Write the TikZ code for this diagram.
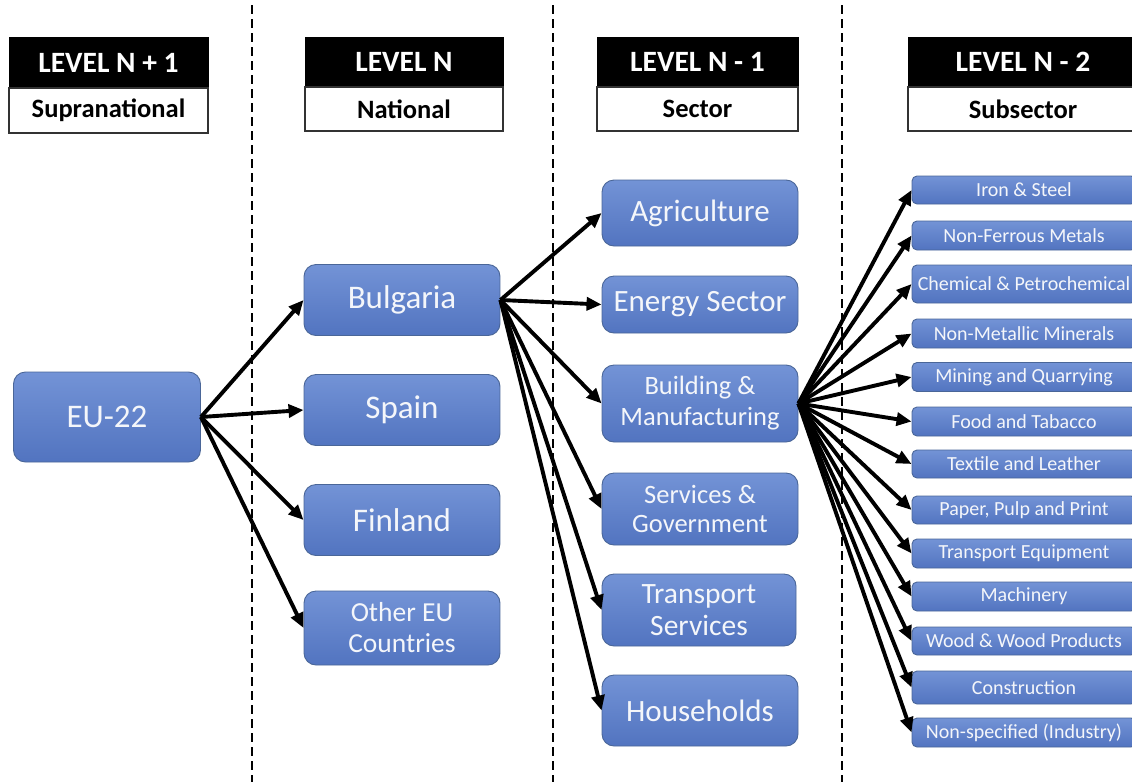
\documentclass[tikz,border=0pt]{standalone}
\usepackage{fontspec}
\setmainfont{Carlito}
\usetikzlibrary{arrows.meta}
\definecolor{boxtop}{HTML}{7393D6}
\definecolor{boxbot}{HTML}{5274C0}
\definecolor{boxline}{HTML}{4A6698}
\definecolor{boxtext}{HTML}{F4F6FA}
\tikzset{
  bluebox/.style={draw=boxline, line width=0.9pt, top color=boxtop, bottom color=boxbot,
    rounded corners=12pt, inner sep=0pt, align=center, text=boxtext},
  subbox/.style={bluebox, rounded corners=5pt, font=\fontsize{20}{22}\selectfont},
  hdrblack/.style={fill=black, draw=black, inner sep=0pt, text=white,
    font=\bfseries\fontsize{29.5}{32}\selectfont},
  hdrwhite/.style={fill=white, draw=black!80, line width=1.2pt, inner sep=0pt,
    font=\bfseries\fontsize{26.5}{29}\selectfont},
  sepline/.style={line width=2.6pt, dash pattern=on 9pt off 5pt},
  conn/.style={line width=3.9pt, -{Triangle[length=15pt,width=13pt]}},
}
\begin{document}
\begin{tikzpicture}[x=1pt,y=-1pt]
\useasboundingbox (0,0) rectangle (1132,782);
% separators
\draw[sepline] (252,5) coordinate (s1a) -- (252,782) coordinate (s1b);
\draw[sepline] (553,5) coordinate (s2a) -- (553,782) coordinate (s2b);
\draw[sepline] (842,5) coordinate (s3a) -- (842,782) coordinate (s3b);
% headers
\node[hdrblack, minimum width=199pt, minimum height=51pt] (h1) at (108.5,62.5) {LEVEL N + 1};
\node[hdrwhite, minimum width=199pt, minimum height=45pt] (h1s) at (108.5,110.5) {Supranational};
\node[hdrblack, minimum width=198pt, minimum height=50pt] (h2) at (404,62) {LEVEL N};
\node[hdrwhite, minimum width=198pt, minimum height=44pt] (h2s) at (404,109) {National};
\node[hdrblack, minimum width=201pt, minimum height=50pt] (h3) at (697.5,62) {LEVEL N - 1};
\node[hdrwhite, minimum width=201pt, minimum height=44pt] (h3s) at (697.5,109) {Sector};
\node[hdrblack, minimum width=230pt, minimum height=50pt] (h4) at (1023,62) {LEVEL N - 2};
\node[hdrwhite, minimum width=230pt, minimum height=44pt] (h4s) at (1023,109) {Subsector};
% level N+1
\node[bluebox, minimum width=187pt, minimum height=90pt, font=\fontsize{33}{36}\selectfont] (eu) at (107,417) {EU-22};
% level N
\begin{scope}[every node/.style={bluebox, minimum width=196pt, minimum height=71pt, font=\fontsize{33}{35}\selectfont}]
\node (bg) at (402,300) {Bulgaria};
\node (es) at (402,410) {Spain};
\node (fi) at (402,520) {Finland};
\node[minimum height=74pt, font=\fontsize{27.5}{31}\selectfont] (ot) at (402,628) {Other EU\\Countries};
\end{scope}
% level N-1
\begin{scope}[every node/.style={bluebox, minimum width=196pt, font=\fontsize{31}{33}\selectfont}]
\node[minimum height=66pt] (ag) at (700,213) {Agriculture};
\node[minimum height=57pt] (en) at (700,304.5) {Energy Sector};
\node[minimum height=77pt, font=\fontsize{26.5}{31}\selectfont] (bm) at (700,403.5) {Building \&\\Manufacturing};
\node[minimum height=72pt, font=\fontsize{26.5}{29}\selectfont] (sg) at (700,509) {Services \&\\Government};
\node[minimum height=72pt, minimum width=194pt, font=\fontsize{29.5}{32}\selectfont] (ts) at (699,610) {Transport\\Services};
\node[minimum height=71pt] (hh) at (700,710.5) {Households};
\end{scope}
% level N-2
\begin{scope}[every node/.style={subbox, minimum width=224pt, minimum height=29pt}]
\node[minimum height=28pt] (n1) at (1024,190) {Iron \& Steel};
\node (n2) at (1024,235.5) {Non-Ferrous Metals};
\node[minimum height=38pt] (n3) at (1024,284) {Chemical \& Petrochemical};
\node (n4) at (1024,333.5) {Non-Metallic Minerals};
\node (n5) at (1024,377) {Mining and Quarrying};
\node (n6) at (1024,421.5) {Food and Tabacco};
\node[minimum height=28pt] (n7) at (1024,464) {Textile and Leather};
\node[minimum height=28pt] (n8) at (1024,510) {Paper, Pulp and Print};
\node (n9) at (1024,553.5) {Transport Equipment};
\node (n10) at (1024,596.5) {Machinery};
\node[minimum height=28pt] (n11) at (1024,641) {Wood \& Wood Products};
\node[minimum height=33pt] (n12) at (1024,687.5) {Construction};
\node (n13) at (1024,732.5) {Non-specified (Industry)};
\end{scope}
% connectors
\foreach \t in {bg,es,fi,ot} \draw[conn] (eu.east) -- (\t.west);
\foreach \t in {ag,en,bm,sg,ts,hh} \draw[conn] (bg.east) -- (\t.west);
\foreach \t in {n1,n2,n3,n4,n5,n6,n7,n8,n9,n10,n11,n12,n13} \draw[conn] (bm.east) -- (\t.west);
\end{tikzpicture}
\end{document}
